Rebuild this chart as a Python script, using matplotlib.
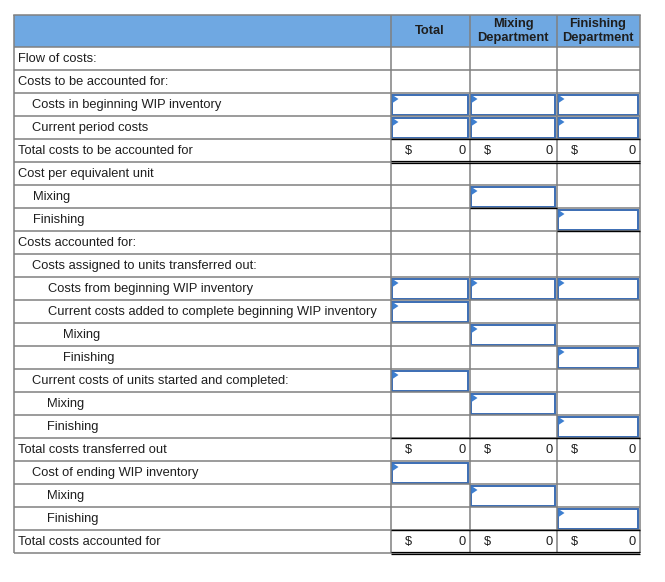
import matplotlib
matplotlib.use("Agg")
import matplotlib.pyplot as plt
from matplotlib.patches import Rectangle, Polygon

# ---------------- data ----------------
row_labels = [
    "Flow of costs:",
    "Costs to be accounted for:",
    "Costs in beginning WIP inventory",
    "Current period costs",
    "Total costs to be accounted for",
    "Cost per equivalent unit",
    "Mixing",
    "Finishing",
    "Costs accounted for:",
    "Costs assigned to units transferred out:",
    "Costs from beginning WIP inventory",
    "Current costs added to complete beginning WIP inventory",
    "Mixing",
    "Finishing",
    "Current costs of units started and completed:",
    "Mixing",
    "Finishing",
    "Total costs transferred out",
    "Cost of ending WIP inventory",
    "Mixing",
    "Finishing",
    "Total costs accounted for",
]
indent_levels = [0, 0, 1, 1, 0, 0, 1, 1, 0, 1, 2, 2, 3, 3, 1, 2, 2, 0, 1, 2, 2, 0]
column_headers = ["Total", "Mixing\nDepartment", "Finishing\nDepartment"]
input_cells = {2: [0, 1, 2], 3: [0, 1, 2], 6: [1], 7: [2], 10: [0, 1, 2],
               11: [0], 12: [1], 13: [2], 14: [0], 15: [1], 16: [2],
               18: [0], 19: [1], 20: [2]}
total_rows = [4, 17, 21]
total_values = [0, 0, 0]
currency = "$"

# ---------------- layout ----------------
W, H = 665, 582
col_edges = [13.5, 390.5, 469.5, 556.5, 639.5]
top, header_bottom, row_h = 14.5, 47.0, 23.0
n = len(row_labels)
bottom = header_bottom + n * row_h

grid_c = "#808080"
header_c = "#6fa8e2"
blue_c = "#3b6db3"
tri_c = "#3d7fd0"
text_c = "#1e1e1e"

plt.rcParams["font.family"] = ["Liberation Sans", "DejaVu Sans"]
fig = plt.figure(figsize=(W / 100, H / 100), dpi=100)
ax = fig.add_axes([0, 0, 1, 1])
ax.set_xlim(0, W)
ax.set_ylim(H, 0)
ax.axis("off")

# header
ax.add_patch(Rectangle((col_edges[0], top), col_edges[-1] - col_edges[0],
                       header_bottom - top, facecolor=header_c, edgecolor="none"))
for i, h in enumerate(column_headers):
    cx = (col_edges[i + 1] + col_edges[i + 2]) / 2
    ax.text(cx, (top + header_bottom) / 2 + 0.5, h, ha="center", va="center",
            fontsize=9.3, fontweight="bold", color=text_c, linespacing=1.25)

lw = 1.1
# horizontal grid
for r in range(n + 1):
    y = header_bottom + r * row_h
    ax.plot([col_edges[0], col_edges[-1]], [y, y], color=grid_c, lw=lw,
            solid_capstyle="butt")
ax.plot([col_edges[0], col_edges[-1]], [top, top], color=grid_c, lw=lw)
# vertical grid
for x in col_edges:
    ax.plot([x, x], [top, bottom], color=grid_c, lw=lw, solid_capstyle="butt")

# labels
for r, (lab, lvl) in enumerate(zip(row_labels, indent_levels)):
    y = header_bottom + r * row_h + row_h / 2 + 0.5
    ax.text(col_edges[0] + 4 + 15 * lvl, y, lab, ha="left", va="center",
            fontsize=9.3, color=text_c)

# input boxes
for r, cols in input_cells.items():
    y0 = header_bottom + r * row_h
    for c in cols:
        x0 = col_edges[c + 1]
        x1 = col_edges[c + 2]
        ax.add_patch(Rectangle((x0 + 1.5, y0 + 1.5), x1 - x0 - 3, row_h - 3,
                               facecolor="white", edgecolor=blue_c, lw=1.4))
        ax.add_patch(Polygon([(x0 + 2, y0 + 2), (x0 + 2, y0 + 10),
                              (x0 + 8, y0 + 6)], closed=True,
                             facecolor=tri_c, edgecolor="none"))

# totals
xv0, xv1 = col_edges[1], col_edges[-1]
for r in total_rows:
    y0 = header_bottom + r * row_h
    y1 = y0 + row_h
    ax.plot([xv0, xv1], [y0, y0], color="black", lw=1.0, solid_capstyle="butt")
    for c, v in enumerate(total_values):
        ax.text(col_edges[c + 1] + 14, y0 + row_h / 2 + 0.5, currency,
                ha="left", va="center", fontsize=9.3, color=text_c)
        ax.text(col_edges[c + 2] - 3.5, y0 + row_h / 2 + 0.5, f"{v}",
                ha="right", va="center", fontsize=9.3, color=text_c)
    if r != 17:
        ax.plot([xv0, xv1], [y1 - 1.2, y1 - 1.2], color="black", lw=0.9,
                solid_capstyle="butt")
        ax.plot([xv0, xv1], [y1 + 1.2, y1 + 1.2], color="black", lw=0.9,
                solid_capstyle="butt")

# single underlines under cost per unit inputs
for r, c in [(6, 1), (7, 2)]:
    y1 = header_bottom + (r + 1) * row_h
    ax.plot([col_edges[c + 1], col_edges[c + 2]], [y1, y1], color="black",
            lw=1.0, solid_capstyle="butt")

fig.savefig("out.png", dpi=100, facecolor="white")
